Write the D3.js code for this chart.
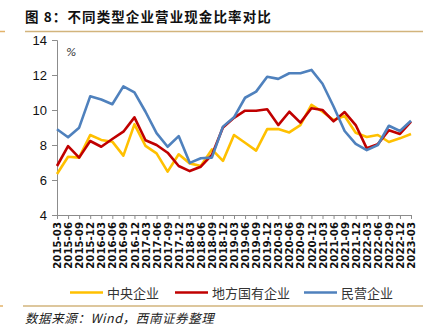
<!DOCTYPE html>
<html><head><meta charset="utf-8">
<script src="https://cdn.jsdelivr.net/npm/d3@7"></script>
<style>
html,body{margin:0;padding:0;background:#fff;}
svg{display:block;}
</style></head>
<body>
<svg id="c" width="440" height="326"></svg>
<script>
const categories = ["2015-03","2015-06","2015-09","2015-12","2016-03","2016-06","2016-09","2016-12",
"2017-03","2017-06","2017-09","2017-12","2018-03","2018-06","2018-09","2018-12",
"2019-03","2019-06","2019-09","2019-12","2020-03","2020-06","2020-09","2020-12",
"2021-03","2021-06","2021-09","2021-12","2022-03","2022-06","2022-09","2022-12","2023-03"];
const central = [6.34,7.33,7.28,8.57,8.29,8.19,7.39,9.18,7.95,7.52,6.48,7.47,6.95,6.80,7.75,7.09,
8.57,8.13,7.68,8.91,8.91,8.72,9.14,10.30,9.90,9.43,9.66,8.70,8.46,8.57,8.17,8.38,8.63];
const local = [6.80,7.94,7.28,8.23,7.90,8.34,8.76,9.58,8.27,8.00,7.56,6.80,6.51,6.76,7.43,9.00,
9.55,9.96,9.96,10.04,9.14,9.90,9.28,10.10,10.00,9.35,9.88,9.14,7.81,8.05,8.84,8.63,9.33];
const privateE = [8.90,8.44,8.99,10.78,10.60,10.33,11.35,11.01,9.90,8.68,7.90,8.51,6.98,7.24,7.28,9.05,
9.58,10.70,11.05,11.90,11.78,12.10,12.10,12.29,11.50,10.20,8.80,8.06,7.71,8.00,9.10,8.80,9.39];
const yTicks = [4,6,8,10,12,14];
const seriesNames = ["中央企业","地方国有企业","民营企业"];
const seriesColors = ["#FFC000","#C00000","#4F81BD"];
const seriesData = [central, local, privateE];

const svg = d3.select("#c");
const x = d3.scalePoint().domain(categories).range([57, 411]);
const y = d3.scaleLinear().domain([4,14]).range([215, 40]);

// title
svg.append("text").attr("x",25).attr("y",22)
  .attr("font-family","'Noto Sans CJK SC'").attr("font-weight","bold").attr("font-size",13.5)
  .attr("letter-spacing",1.1).attr("fill","#111")
  .text("图 8：不同类型企业营业现金比率对比");
svg.append("line").attr("x1",25).attr("x2",423).attr("y1",31.5).attr("y2",31.5)
  .attr("stroke","#D2B47C").attr("stroke-width",1.5);
svg.append("line").attr("x1",0).attr("x2",5).attr("y1",31.5).attr("y2",31.5)
  .attr("stroke","#E3B36A").attr("stroke-width",1.5);

// axes
const yAxis = d3.axisLeft(y).tickValues(yTicks).tickSize(5).tickPadding(5).tickFormat(d3.format("d"));
const gy = svg.append("g").attr("transform","translate(57,0)").call(yAxis);
gy.selectAll("path,line").attr("stroke","#8c8c8c");
gy.selectAll("text").attr("font-family","'Liberation Sans'").attr("font-size",13).attr("fill","#111");

const xAxis = d3.axisBottom(x).tickSize(4).tickSizeOuter(0);
const gx = svg.append("g").attr("transform","translate(0,215)").call(xAxis);
gx.selectAll("path,line").attr("stroke","#8c8c8c");
gx.selectAll("text")
  .attr("font-family","'DejaVu Sans'").attr("font-weight","bold").attr("font-size",10.2).attr("fill","#111")
  .attr("transform","rotate(-90)").attr("text-anchor","end").attr("x",-7).attr("y",0).attr("dy","0.35em");

svg.append("text").attr("x",66).attr("y",56).attr("font-family","'DejaVu Sans'")
  .attr("font-style","italic").attr("font-size",11).attr("fill","#333").text("%");

// lines
const line = d3.line().x((d,i)=>x(categories[i])).y(d=>y(d));
seriesData.forEach((s,k)=>{
  svg.append("path").datum(s).attr("d",line).attr("fill","none")
    .attr("stroke",seriesColors[k]).attr("stroke-width",2.6).attr("stroke-linejoin","round");
});

// legend
const legX = [70,175,304];
seriesNames.forEach((n,k)=>{
  svg.append("line").attr("x1",legX[k]).attr("x2",legX[k]+33).attr("y1",292.5).attr("y2",292.5)
    .attr("stroke",seriesColors[k]).attr("stroke-width",2.6);
  svg.append("text").attr("x",legX[k]+37).attr("y",297.5)
    .attr("font-family","'Noto Sans CJK SC'").attr("font-size",13).attr("fill","#333").text(n);
});

// footer
svg.append("line").attr("x1",23).attr("x2",423).attr("y1",306).attr("y2",306)
  .attr("stroke","#D2B47C").attr("stroke-width",1.5);
svg.append("line").attr("x1",0).attr("x2",3).attr("y1",306).attr("y2",306)
  .attr("stroke","#E3B36A").attr("stroke-width",1.5);
svg.append("text").attr("x",25).attr("y",323)
  .attr("font-family","'Noto Sans CJK SC'").attr("font-style","italic").attr("font-size",12.5)
  .attr("letter-spacing",0.6).attr("fill","#222").text("数据来源：Wind，西南证券整理");
</script>
</body></html>
